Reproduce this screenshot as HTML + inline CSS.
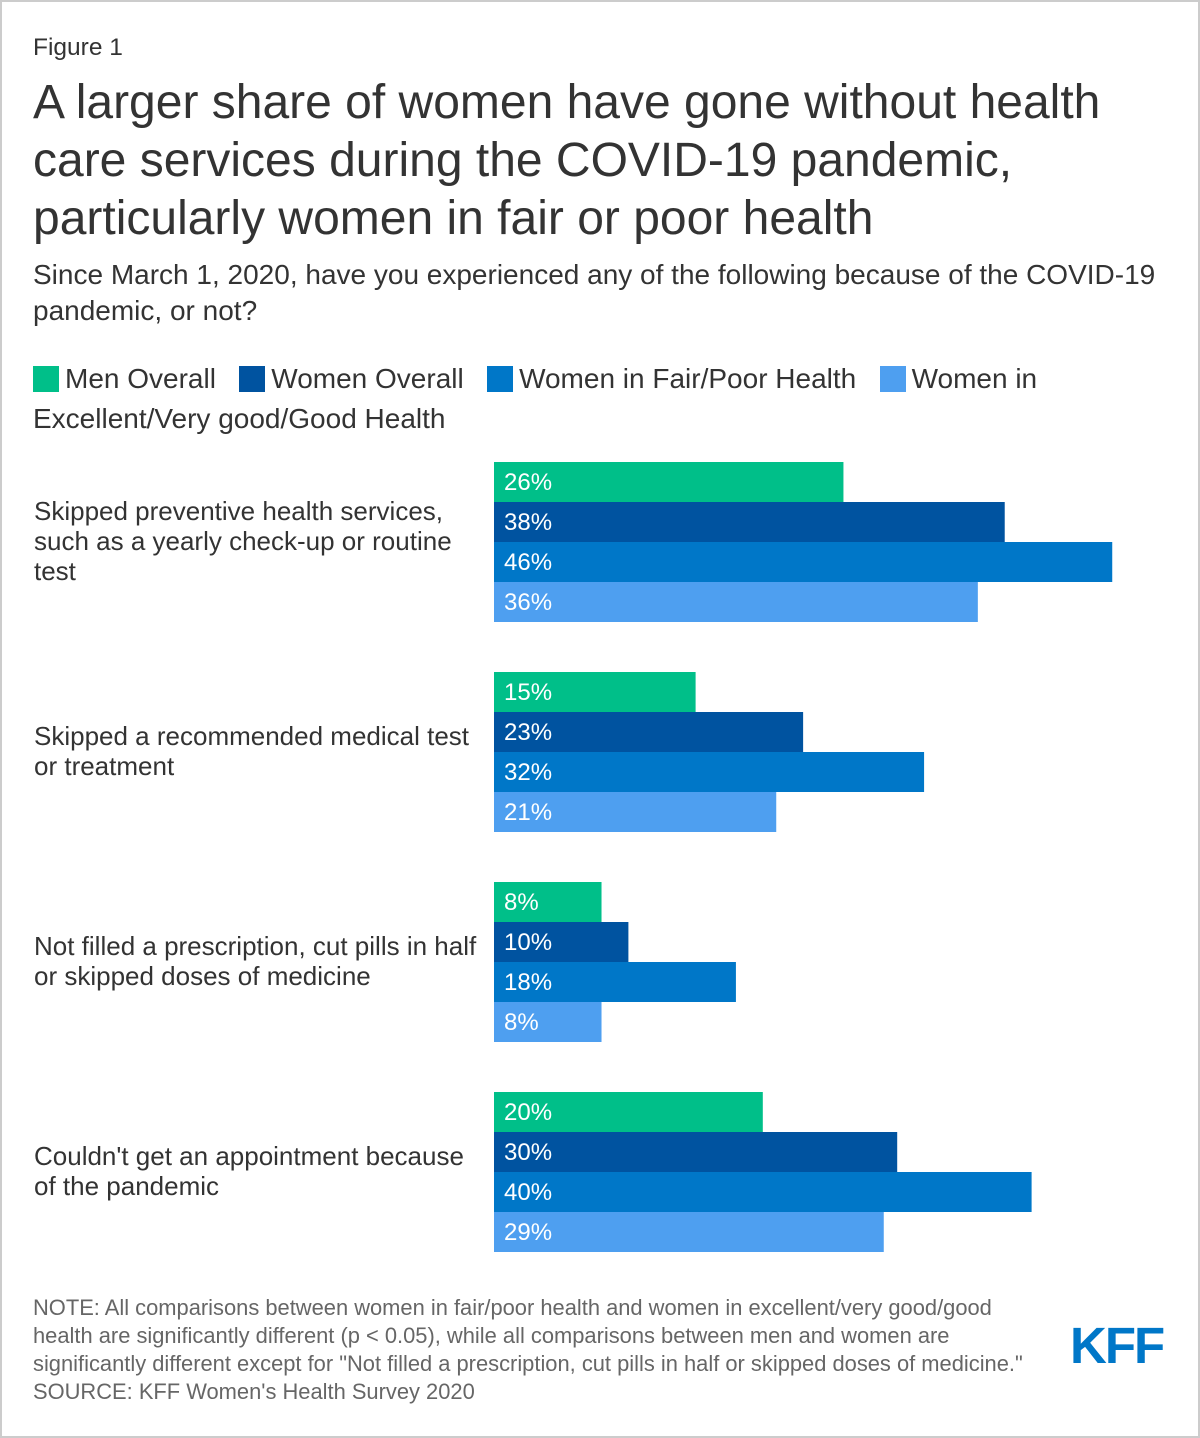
<!DOCTYPE html>
<html><head><meta charset="utf-8"><style>
body{margin:0;background:#fff;font-family:"Liberation Sans",Arial,sans-serif;color:#333}
#wrap{position:relative;width:1196px;height:1434px;border:2px solid #ccc;overflow:hidden}
.t{position:absolute;white-space:nowrap}
.sw{display:inline-block;width:26px;height:26px;vertical-align:-4px;margin-right:6px}
</style></head><body>
<div id="wrap">
<div class="t" style="left:31px;top:32px;font-size:24.5px">Figure 1</div>
<div class="t" style="left:31px;top:72px;font-size:48px;line-height:58px;color:#333">A larger share of women have gone without health<br>care services during the COVID-19 pandemic,<br>particularly women in fair or poor health</div>
<div class="t" style="left:31px;top:255px;font-size:28px;line-height:36px">Since March 1, 2020, have you experienced any of the following because of the COVID-19<br>pandemic, or not?</div>
<div class="t" style="left:31px;top:357px;font-size:28px;line-height:40px">
<span><span class="sw" style="background:#00bf89"></span>Men Overall</span>&nbsp;&nbsp;
<span><span class="sw" style="background:#0053a0"></span>Women Overall</span>&nbsp;&nbsp;
<span><span class="sw" style="background:#0077c8"></span>Women in Fair/Poor Health</span>&nbsp;&nbsp;
<span><span class="sw" style="background:#4e9ff0"></span>Women in<br>Excellent/Very good/Good Health</span>
</div>
<svg id="plot" width="1196" height="1300" style="position:absolute;left:0;top:0"></svg>
<div class="t" style="left:31px;top:1292px;font-size:21.9px;line-height:28px;color:#666">NOTE: All comparisons between women in fair/poor health and women in excellent/very good/good<br>health are significantly different (p &lt; 0.05), while all comparisons between men and women are<br>significantly different except for "Not filled a prescription, cut pills in half or skipped doses of medicine."<br>SOURCE: KFF Women's Health Survey 2020</div>
<div class="t" style="left:1068px;top:1314px;font-size:51px;font-weight:bold;color:#0077c8;letter-spacing:-2px">KFF</div>
</div>
<script>
const categories=[["Skipped preventive health services,","such as a yearly check-up or routine","test"],["Skipped a recommended medical test","or treatment"],["Not filled a prescription, cut pills in half","or skipped doses of medicine"],["Couldn't get an appointment because","of the pandemic"]];
const menOverall=[26,15,8,20];
const womenOverall=[38,23,10,30];
const womenFairPoor=[46,32,18,40];
const womenGood=[36,21,8,29];
const seriesNames=["men","women","fair-poor","good"];
const colors=["#00bf89","#0053a0","#0077c8","#4e9ff0"];
const svg=document.getElementById('plot');
const NS="http://www.w3.org/2000/svg";
const x0=492, pxPer=13.44, gTop=460, gStep=210, bH=40;
const xs=v=>v*pxPer;
const series=[menOverall,womenOverall,womenFairPoor,womenGood];
categories.forEach((lines,ci)=>{
  const gy=gTop+ci*gStep;
  const lh=30, cy=gy+80, start=cy-(lines.length*lh)/2+23;
  lines.forEach((ln,li)=>{
    const t=document.createElementNS(NS,'text');
    
    
    t.setAttribute('x',32);t.setAttribute('y',start+li*lh);
    t.setAttribute('font-size','26');t.setAttribute('fill','#333');
    t.setAttribute('font-family','Liberation Sans, sans-serif');
    t.textContent=ln;svg.appendChild(t);
  });
  series.forEach((s,si)=>{
    const r=document.createElementNS(NS,'rect');
    
    
    r.setAttribute('x',x0);r.setAttribute('y',gy+si*bH);
    r.setAttribute('width',xs(s[ci]));r.setAttribute('height',bH);
    r.setAttribute('fill',colors[si]);svg.appendChild(r);
    const t=document.createElementNS(NS,'text');
    
    
    t.setAttribute('x',x0+10);t.setAttribute('y',gy+si*bH+28);
    t.setAttribute('font-size','24');t.setAttribute('fill','#fff');
    t.setAttribute('font-family','Liberation Sans, sans-serif');
    t.textContent=s[ci]+'%';svg.appendChild(t);
  });
});
</script>
</body></html>
